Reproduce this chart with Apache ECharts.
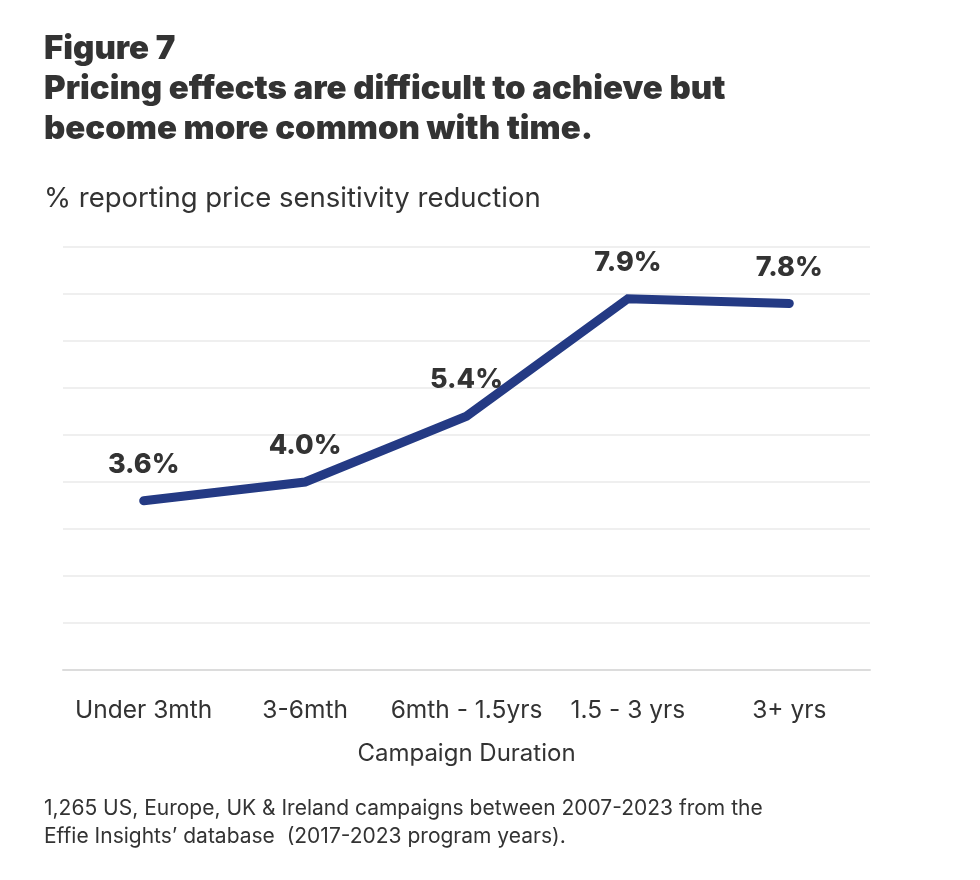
<!DOCTYPE html>
<html>
<head>
<meta charset="utf-8">
<script src="https://cdn.jsdelivr.net/npm/echarts@6/dist/echarts.min.js"></script>
<style>
html,body{margin:0;padding:0;background:#fff;}
#c{width:980px;height:880px;}
</style>
</head>
<body>
<div id="c"></div>
<script>
const categories = ['Under 3mth', '3-6mth', '6mth - 1.5yrs', '1.5 - 3 yrs', '3+ yrs'];
const values = [3.6, 4.0, 5.4, 7.9, 7.8];
const titleLines = ['Figure 7', 'Pricing effects are difficult to achieve but', 'become more common with time.'];
const subtitle = '% reporting price sensitivity reduction';
const axisName = 'Campaign Duration';
const footnoteLines = ['1,265 US, Europe, UK & Ireland campaigns between 2007-2023 from the', 'Effie Insights\u2019 database  (2017-2023 program years).'];

const FONT = 'Inter';
const chart = echarts.init(document.getElementById('c'), null, {renderer: 'canvas'});
chart.setOption({
  backgroundColor: '#fff',
  animation: false,
  title: [
    {
      text: titleLines.join('\n'),
      left: 44, top: 29, padding: 0,
      textStyle: {fontFamily: FONT, fontWeight: 900, fontSize: 33, lineHeight: 40, color: '#333'}
    },
    {
      text: subtitle,
      left: 44, top: 184, padding: 0,
      textStyle: {fontFamily: FONT, fontWeight: 'normal', fontSize: 27.5, lineHeight: 30, color: '#333'}
    },
    {
      text: footnoteLines.join('\n'),
      left: 44, top: 795, padding: 0,
      textStyle: {fontFamily: FONT, fontWeight: 'normal', fontSize: 21, lineHeight: 28, color: '#333'}
    }
  ],
  grid: {left: 63, right: 110, top: 247, bottom: 210, containLabel: false},
  xAxis: {
    type: 'category',
    data: categories,
    boundaryGap: true,
    name: axisName,
    nameLocation: 'middle',
    nameGap: 70,
    nameTextStyle: {fontFamily: FONT, fontSize: 24, color: '#333', lineHeight: 28},
    axisLine: {show: true, lineStyle: {color: '#dcdcdc', width: 2}},
    axisTick: {show: false},
    axisLabel: {fontFamily: FONT, fontSize: 24.5, color: '#333', margin: 28, interval: 0}
  },
  yAxis: {
    type: 'value',
    min: 0, max: 9, interval: 1,
    axisLine: {show: false},
    axisTick: {show: false},
    axisLabel: {show: false},
    splitLine: {show: true, lineStyle: {color: '#efefef', width: 2}}
  },
  series: [{
    type: 'line',
    data: values,
    symbol: 'circle',
    symbolSize: 1,
    showSymbol: true,
    itemStyle: {color: '#243a84'},
    lineStyle: {color: '#243a84', width: 9, cap: 'round', join: 'miter'},
    label: {
      show: true,
      position: 'top',
      distance: 22,
      formatter: p => p.value.toFixed(1) + '%',
      fontFamily: FONT, fontWeight: 800, fontSize: 27, color: '#333'
    }
  }]
});
</script>
</body>
</html>
